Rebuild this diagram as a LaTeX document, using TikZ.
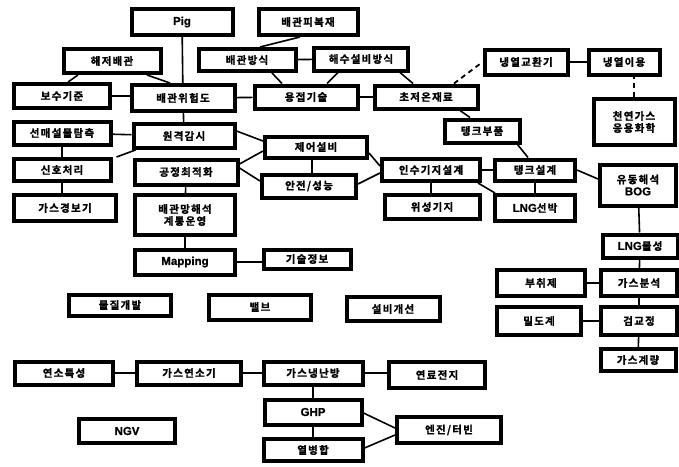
\documentclass[tikz,border=0pt]{standalone}
\usepackage{fontspec}
\newfontfamily\krfont{Noto Sans CJK KR}[BoldFont={Noto Sans CJK KR Bold}, BoldFeatures={FakeBold=1.2}, LetterSpace=12]
\newfontfamily\latfont{Liberation Sans}[BoldFeatures={FakeBold=1}]
\newcommand\ltxt[1]{{\latfont\bfseries\fontsize{11.5}{12}\selectfont #1}}
\usepackage{tikz}

\begin{document}
\begin{tikzpicture}[x=1pt,y=-1pt,
    box/.style={draw, line width=4pt, inner sep=1pt, align=center,
      font=\krfont\bfseries\fontsize{10.5}{12}\selectfont},
    wh/.style 2 args={minimum width=#1pt, minimum height=#2pt},
    link/.style={line width=1.6pt},
    dlink/.style={line width=1.8pt, dash pattern=on 5pt off 4pt}]
  \useasboundingbox (0,0) rectangle (679,466);

  % pipeline group
  \node[box, wh={101}{26}] (pig) at (182,22) {\ltxt{Pig}};
  \node[box, wh={99}{26}] (coat) at (308,22) {배관피복재};
  \node[box, wh={97}{24}] (subsea) at (112,61) {해저배관};
  \node[box, wh={97}{22}] (protect) at (247,60) {배관방식};
  \node[box, wh={94}{23}] (seawater) at (361,59) {해수설비방식};
  \node[box, wh={96}{24}] (maint) at (62,96) {보수기준};
  \node[box, wh={103}{26}] (risk) at (183,98) {배관위험도};
  \node[box, wh={103}{23}] (weld) at (306,97) {용접기술};
  \node[box, wh={103}{23}] (cryo) at (426,97) {초저온재료};
  \node[box, wh={83}{25}] (coldx) at (526,62) {냉열교환기};
  \node[box, wh={71}{25}] (coldu) at (624,62) {냉열이용};
  \node[box, wh={81}{46}] (chem) at (634,122) {천연가스\\응용화학};
  \node[box, wh={75}{23}] (tankp) at (482,131) {탱크부품};
  \node[box, wh={97}{23}] (buried) at (62,133) {선매설물탐측};
  \node[box, wh={101}{24}] (remote) at (184,136) {원격감시};
  \node[box, wh={102}{21}] (ctrl) at (316,147) {제어설비};
  \node[box, wh={97}{22}] (signal) at (62,170) {신호처리};
  \node[box, wh={103}{25}] (optim) at (186,172) {공정최적화};
  \node[box, wh={94}{23}] (safety) at (309,186) {안전/성능};
  \node[box, wh={98}{22}] (recv) at (431,170) {인수기지설계};
  \node[box, wh={80}{21}] (tankd) at (535,170) {탱크설계};
  \node[box, wh={76}{41}] (bog) at (638,185) {유동해석\\\ltxt{BOG}};
  \node[box, wh={102}{26}] (alarm) at (65,208) {가스경보기};
  \node[box, wh={100}{40}] (network) at (185,215) {배관망해석\\계통운영};
  \node[box, wh={95}{24}] (sat) at (432,207) {위성기지};
  \node[box, wh={80}{26}] (ship) at (535,208) {\ltxt{LNG}선박};
  \node[box, wh={75}{23}] (prop) at (640,246) {\ltxt{LNG}물성};
  \node[box, wh={100}{25}] (mapping) at (185,262) {\ltxt{Mapping}};
  \node[box, wh={87}{19}] (info) at (307,259) {기술정보};
  \node[box, wh={88}{26}] (odor) at (541,283) {부취제};
  \node[box, wh={76}{26}] (anal) at (639,283) {가스분석};
  \node[box, wh={84}{28}] (dens) at (539,321) {밀도계};
  \node[box, wh={76}{28}] (calib) at (639,321) {검교정};
  \node[box, wh={75}{22}] (meter) at (638,360) {가스계량};

  % stand-alone items
  \node[box, wh={102}{21}] (mat) at (120,305) {물질개발};
  \node[box, wh={102}{25}] (valve) at (260,307) {밸브};
  \node[box, wh={93}{24}] (equip) at (393,309) {설비개선};

  % utilization group
  \node[box, wh={98}{23}] (comb) at (64,373) {연소특성};
  \node[box, wh={104}{23}] (burner) at (189,373) {가스연소기};
  \node[box, wh={99}{23}] (hvac) at (313,373) {가스냉난방};
  \node[box, wh={96}{26}] (fuel) at (437,375) {연료전지};
  \node[box, wh={97}{25}] (ghp) at (313,412) {\ltxt{GHP}};
  \node[box, wh={96}{24}] (ngv) at (127,431) {\ltxt{NGV}};
  \node[box, wh={99}{22}] (chp) at (313,450) {열병합};
  \node[box, wh={104}{26}] (engine) at (449,430) {엔진/터빈};

  % connectors
  \draw[link] (pig) -- (risk);
  \draw[link] ([xshift=-34pt]subsea.south) -- ([xshift=6pt]maint.north);
  \draw[link] ([xshift=35pt]subsea.south) -- ([xshift=-13pt]risk.north);
  \draw[link] (maint.east) -- (maint.east -| risk.west);
  \draw[link] (risk) -- (weld);
  \draw[link] ([xshift=-8pt]coat.south) -- ([xshift=13pt]protect.north);
  \draw[link] (protect) -- (seawater);
  \draw[link] ([xshift=25pt]protect.south) -- ([xshift=-24pt]weld.north);
  \draw[link] ([xshift=-23pt]seawater.south) -- ([xshift=21pt]weld.north);
  \draw[link] ([xshift=39pt]seawater.south) -- ([xshift=-13pt]cryo.north);
  \draw[link] (weld) -- (cryo);
  \draw[dlink] ([xshift=28pt]cryo.north) -- (coldx.west);
  \draw[link] (coldx) -- (coldu);
  \draw[dlink] (chem.north) -- (chem.north |- coldu.south);
  \draw[link] ([xshift=34pt]cryo.south) -- ([xshift=-12pt]tankp.north);
  \draw[link] ([xshift=-4pt]tankp.south east) -- ([xshift=-7pt]tankd.north);
  \draw[link] (risk) -- (remote);
  \draw[link] (buried) -- (remote);
  \draw[link] ([yshift=5pt]remote.east) -- ([yshift=6pt]ctrl.west);
  \draw[link] (buried) -- (signal);
  \draw[link] ([xshift=4pt]remote.south west) -- ([xshift=4pt]signal.north east);
  \draw[link] (signal.south) -- (signal.south |- alarm.north);
  \draw[link] ([yshift=8pt]optim.east) -- ([yshift=-4pt]ctrl.west);
  \draw[link] ([yshift=4pt]optim.east) -- ([yshift=5pt]safety.west);
  \draw[link] ([xshift=-4pt]ctrl.south) -- ([xshift=-4pt]ctrl.south |- safety.north);
  \draw[link] ([yshift=-6pt]ctrl.east) -- ([yshift=4pt]recv.west);
  \draw[link] ([yshift=2pt]safety.east) -- ([yshift=-3pt]recv.west);
  \draw[link] (recv) -- (tankd);
  \draw[link] (recv.south) -- (recv.south |- sat.north);
  \draw[link] ([xshift=-4pt]recv.south east) -- ([xshift=2pt]ship.north west);
  \draw[link] (tankd.south) -- (tankd.south |- ship.north);
  \draw[link] (tankd.east) -- ([yshift=6pt]bog.west);
  \draw[link] (optim) -- (network);
  \draw[link] (network) -- (mapping);
  \draw[link] (mapping.east) -- (mapping.east -| info.west);
  \draw[link] (bog) -- (prop);
  \draw[link] (prop) -- (anal);
  \draw[link] (odor) -- (anal);
  \draw[link] (anal) -- (calib);
  \draw[link] (dens) -- (calib);
  \draw[link] (calib) -- (meter);
  \draw[link] (comb) -- (burner);
  \draw[link] (burner) -- (hvac);
  \draw[link] (hvac.east) -- (hvac.east -| fuel.west);
  \draw[link] (hvac) -- (ghp);
  \draw[link] (ghp) -- (chp);
  \draw[link] ([yshift=-1pt]ghp.east) -- ([yshift=2pt]engine.west);
  \draw[link] ([yshift=2pt]chp.east) -- ([yshift=-5pt]engine.west);
\end{tikzpicture}
\end{document}
